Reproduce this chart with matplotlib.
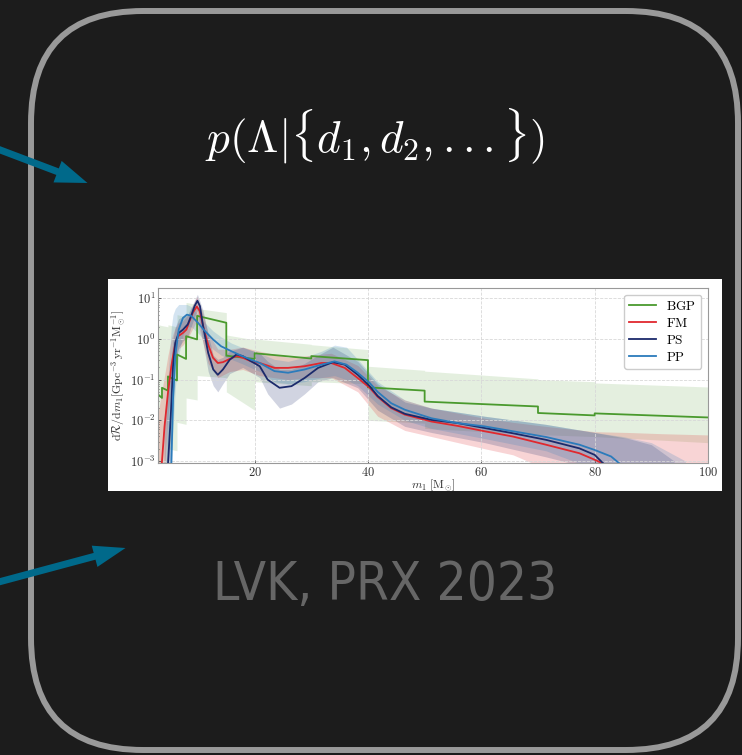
import matplotlib
matplotlib.use("Agg")
import matplotlib.pyplot as plt
import numpy as np
from matplotlib.patches import FancyBboxPatch, Rectangle, FancyArrow

plt.rcParams['mathtext.fontset'] = 'cm'

# ---- inset data (log10 of dR/dm1) ----
# BGP: binned, value at start / end of each bin
bgp_edges = [3, 3.65, 4.7, 6.3, 7.9, 9.85, 15, 20, 30, 40, 50, 70, 80, 100]
bgp_start = [-1.37, -1.20, -0.92, -0.38, 0.07, 0.57, -0.41, -0.35, -0.42, -1.19, -1.54, -1.82, -1.83]
bgp_end = [-1.45, -1.27, -1.02, -0.49, -0.01, 0.40, -0.49, -0.48, -0.52, -1.27, -1.66, -1.88, -1.93]
bgp_hi_start = [0.35, 0.33, 0.35, 0.60, 0.90, 0.75, 0.10, 0.00, -0.14, -0.67, -0.79, -1.00, -1.08]
bgp_hi_end = [0.33, 0.30, 0.30, 0.55, 0.85, 0.65, -0.02, -0.13, -0.26, -0.77, -0.98, -1.05, -1.18]
bgp_lo_start = [-3.2, -3.2, -2.70, -2.05, -1.45, -0.90, -1.30, -1.05, -1.05, -2.00, -2.20, -2.35, -2.40]
bgp_lo_end = [-3.2, -3.2, -2.75, -2.10, -1.50, -0.95, -1.75, -1.15, -1.10, -2.07, -2.35, -2.40, -2.55]

# FM
fm_x = [3.6, 4.1, 4.7, 5.3, 5.9, 6.5, 7.35, 7.95, 8.5, 9.1, 9.8, 10.3, 10.9, 11.8, 12.65,
        13.5, 14.4, 15.6, 16.8, 17.9, 19.4, 20.9, 23.5, 25.9, 28.8, 31.8, 33.5, 35.9, 38.2,
        40.3, 41.7, 44.1, 46.5, 51.2, 55.9, 60.6, 65.6, 71.4, 77.3, 80, 82]
fm_y = [-3.1, -2.15, -1.33, -0.67, -0.18, 0.07, 0.15, 0.23, 0.44, 0.65, 0.80, 0.69, 0.32, -0.14, -0.46,
        -0.59, -0.57, -0.49, -0.42, -0.46, -0.55, -0.59, -0.71, -0.71, -0.67, -0.59, -0.59, -0.71, -0.96,
        -1.20, -1.42, -1.70, -1.86, -2.03, -2.14, -2.27, -2.40, -2.60, -2.81, -2.97, -3.1]
fm_band_x = [3, 3.6, 4.1, 4.7, 5.3, 5.9, 6.5, 7.35, 8.5, 9.8, 10.9, 11.8, 13.5, 15.6, 17.9, 20.9,
             25.9, 30, 33.5, 38.2, 41.7, 46.5, 51.2, 60.6, 65.6, 71.4, 80, 86, 92, 100]
fm_hi = [-1.8, -1.3, -0.9, -0.4, 0.0, 0.25, 0.4, 0.45, 0.65, 1.05, 0.6, 0.15, -0.25, -0.25, -0.2, -0.3,
         -0.45, -0.4, -0.35, -0.65, -1.15, -1.5, -1.7, -1.95, -2.05, -2.15, -2.28, -2.3, -2.33, -2.36]
fm_lo = [-3.2, -3.2, -3.2, -1.9, -1.1, -0.6, -0.25, -0.15, 0.1, 0.45, -0.1, -0.6, -0.95, -0.8, -0.75, -0.9,
         -1.0, -0.95, -0.95, -1.3, -1.9, -2.25, -2.4, -2.7, -2.85, -3.2, -3.2, -3.2, -3.2, -3.2]

# PS
ps_x = [4.7, 5.2, 5.6, 6.0, 6.6, 7.35, 8.2, 8.8, 9.4, 9.9, 10.35, 10.9, 11.8, 12.7, 13.5, 14.4,
        15.6, 16.8, 17.9, 19.4, 20.9, 22.3, 24.4, 26.5, 28.8, 31.2, 33.8, 35.9, 38.2, 40.3,
        41.7, 44.1, 46.5, 51.2, 55.9, 60.6, 65.6, 71.4, 77.3, 80, 81.8]
ps_y = [-3.1, -1.9, -0.67, -0.09, 0.15, 0.23, 0.36, 0.57, 0.81, 0.94, 0.81, 0.32, -0.34, -0.75, -0.88, -0.75,
        -0.51, -0.38, -0.42, -0.55, -0.67, -1.0, -1.2, -1.16, -0.96, -0.71, -0.57, -0.63, -0.88, -1.16,
        -1.40, -1.68, -1.84, -1.99, -2.07, -2.19, -2.32, -2.48, -2.69, -2.85, -3.1]
ps_band_x = [4, 4.7, 5.2, 5.6, 6.0, 6.6, 7.35, 8.2, 9.4, 9.9, 10.9, 11.8, 12.7, 13.5, 14.4, 15.6, 17.9,
             20.9, 22.3, 24.4, 26.5, 28.8, 31.2, 33.8, 38.2, 41.7, 46.5, 51.2, 60.6, 71.4, 80, 86, 90, 94]
ps_hi = [-2.0, -1.2, -0.6, 0.0, 0.3, 0.5, 0.55, 0.6, 0.95, 1.1, 0.7, 0.1, -0.4, -0.5, -0.45, -0.3, -0.2,
         -0.35, -0.55, -0.75, -0.75, -0.6, -0.4, -0.2, -0.55, -1.1, -1.55, -1.7, -1.9, -2.1, -2.3, -2.45, -2.6, -3.0]
ps_lo = [-3.2, -3.2, -3.2, -1.6, -0.6, -0.2, -0.05, 0.05, 0.55, 0.7, -0.1, -0.8, -1.15, -1.3, -1.1, -0.85, -0.7,
         -0.95, -1.35, -1.7, -1.6, -1.35, -1.05, -0.95, -1.2, -1.75, -2.15, -2.3, -2.55, -2.9, -3.2, -3.2, -3.2, -3.2]

# PP
pp_x = [5.3, 5.6, 6.0, 6.6, 7.35, 8.05, 8.8, 10.0, 11.2, 12.65, 14.1, 15.9, 17.65, 19.4, 20.9, 23.5,
        25.9, 28.8, 31.8, 34.1, 36.2, 38.2, 40.3, 41.7, 44.1, 46.5, 51.2, 55.9, 60.6, 65.6, 71.4,
        77.3, 80, 82.9, 84.7]
pp_y = [-3.1, -1.49, -0.42, 0.23, 0.52, 0.60, 0.57, 0.40, 0.20, -0.01, -0.18, -0.30, -0.41, -0.51, -0.59, -0.79,
        -0.83, -0.75, -0.63, -0.55, -0.63, -0.83, -1.08, -1.30, -1.58, -1.74, -1.95, -2.07, -2.15, -2.27, -2.41,
        -2.60, -2.73, -2.89, -3.1]
pp_band_x = [4.5, 5.0, 5.3, 5.6, 6.0, 6.6, 7.35, 8.05, 8.8, 10.0, 11.2, 12.65, 14.1, 15.9, 17.65, 20.9, 23.5,
             25.9, 28.8, 31.8, 34.1, 36.2, 38.2, 41.7, 46.5, 51.2, 60.6, 71.4, 80, 85, 90, 96]
pp_hi = [-1.5, -0.3, 0.3, 0.6, 0.75, 0.85, 0.85, 0.85, 0.8, 0.6, 0.4, 0.2, 0.05, -0.1, -0.2, -0.35, -0.5,
         -0.55, -0.45, -0.3, -0.15, -0.2, -0.5, -1.05, -1.5, -1.7, -1.9, -2.1, -2.3, -2.4, -2.55, -3.0]
pp_lo = [-3.2, -3.2, -3.2, -2.2, -1.2, -0.4, 0.1, 0.3, 0.3, 0.15, -0.05, -0.25, -0.4, -0.5, -0.6, -0.8, -1.05,
         -1.1, -1.05, -0.95, -0.9, -1.0, -1.15, -1.6, -2.0, -2.2, -2.45, -2.75, -3.2, -3.2, -3.2, -3.2]

x_ticks = [20, 40, 60, 80, 100]
y_exps = [-3, -2, -1, 0, 1]
labels = ['BGP', 'FM', 'PS', 'PP']
colors = ['#4a9a2e', '#e0282e', '#1b2a6b', '#2b7bbb']


def bins_to_steps(edges, start, end):
    xs, ys = [], []
    for i in range(len(start)):
        xs += [edges[i], edges[i + 1]]
        ys += [start[i], end[i]]
    return np.array(xs), 10 ** np.array(ys)


bg = '#1c1c1c'
fig = plt.figure(figsize=(7.42, 7.55), dpi=100, facecolor=bg)

# slide background in pixel coordinates
ax = fig.add_axes([0, 0, 1, 1])
ax.set_xlim(0, 742)
ax.set_ylim(755, 0)
ax.axis('off')
ax.set_facecolor(bg)

box = FancyBboxPatch((31, 11), 707, 739, boxstyle='round,pad=0,rounding_size=112',
                     fc='none', ec='#999999', lw=4.3)
ax.add_patch(box)

teal = '#00698a'
ax.add_patch(FancyArrow(-5, 148, 92.5, 35, width=7, head_width=23, head_length=32,
                        length_includes_head=True, color=teal, lw=0))
ax.add_patch(FancyArrow(-5, 583, 130.5, -35, width=7, head_width=22, head_length=32,
                        length_includes_head=True, color=teal, lw=0))

ax.text(375, 136, r'$p(\Lambda|\{d_1,d_2,...\})$', fontsize=32.5, color='white',
        ha='center', va='center')
ax.text(385, 585, 'LVK, PRX 2023', fontsize=38, color='#666666', ha='center', va='center',
        family='DejaVu Sans', fontstretch='condensed')

ax.add_patch(Rectangle((108, 279), 614, 212, fc='white', ec='none'))

# ---- inset chart ----
ia = fig.add_axes([158.3 / 742, 1 - 463 / 755, (708 - 158.3) / 742, (463 - 288) / 755])
ia.set_facecolor('white')

bx, by = bins_to_steps(bgp_edges, bgp_start, bgp_end)
_, bhi = bins_to_steps(bgp_edges, bgp_hi_start, bgp_hi_end)
_, blo = bins_to_steps(bgp_edges, bgp_lo_start, bgp_lo_end)
ia.fill_between(bx, blo, bhi, color=colors[0], alpha=0.15, lw=0)

bands = [(fm_band_x, fm_lo, fm_hi), (ps_band_x, ps_lo, ps_hi), (pp_band_x, pp_lo, pp_hi)]
for (xb, lo, hi), c in zip(bands, colors[1:]):
    ia.fill_between(xb, 10 ** np.array(lo), 10 ** np.array(hi), color=c, alpha=0.2, lw=0)

ia.plot(bx, by, color=colors[0], lw=1.3, label=r'$\mathrm{%s}$' % labels[0])
for (xl, yl), c, lab in zip([(fm_x, fm_y), (ps_x, ps_y), (pp_x, pp_y)], colors[1:], labels[1:]):
    ia.plot(xl, 10 ** np.array(yl), color=c, lw=1.3, label=r'$\mathrm{%s}$' % lab)

ia.set_yscale('log')
ia.set_xlim(3, 100)
ia.set_ylim(8.9e-4, 18)
ia.set_xticks(x_ticks)
ia.set_xticklabels([r'$%d$' % t for t in x_ticks])
ia.set_yticks([10.0 ** e for e in y_exps])
ia.set_yticklabels([r'$10^{%d}$' % e for e in y_exps])
ia.grid(True, color='#d8d8d8', lw=0.6, ls='--')
ia.tick_params(labelsize=9, direction='in', length=2, width=0.5, colors='#333333', pad=2)
ia.tick_params(which='minor', direction='in', length=1, width=0.4)
for s in ia.spines.values():
    s.set_color('#999999')
    s.set_linewidth(0.8)
ia.set_xlabel(r'$m_1\ [\mathrm{M}_{\odot}]$', fontsize=8.5, labelpad=-1, color='#333333')
ia.set_ylabel(r'$\mathrm{d}\mathcal{R}/\mathrm{d}m_1[\mathrm{Gpc}^{-3}\,\mathrm{yr}^{-1}\mathrm{M}_{\odot}^{-1}]$',
              fontsize=8.5, labelpad=1, color='#333333')
ia.legend(loc='upper right', fontsize=9.5, handlelength=2.0, labelspacing=0.3,
          framealpha=1, edgecolor='#cccccc', fancybox=True, borderaxespad=0.5)

fig.savefig('out.png', dpi=100, facecolor=bg)
